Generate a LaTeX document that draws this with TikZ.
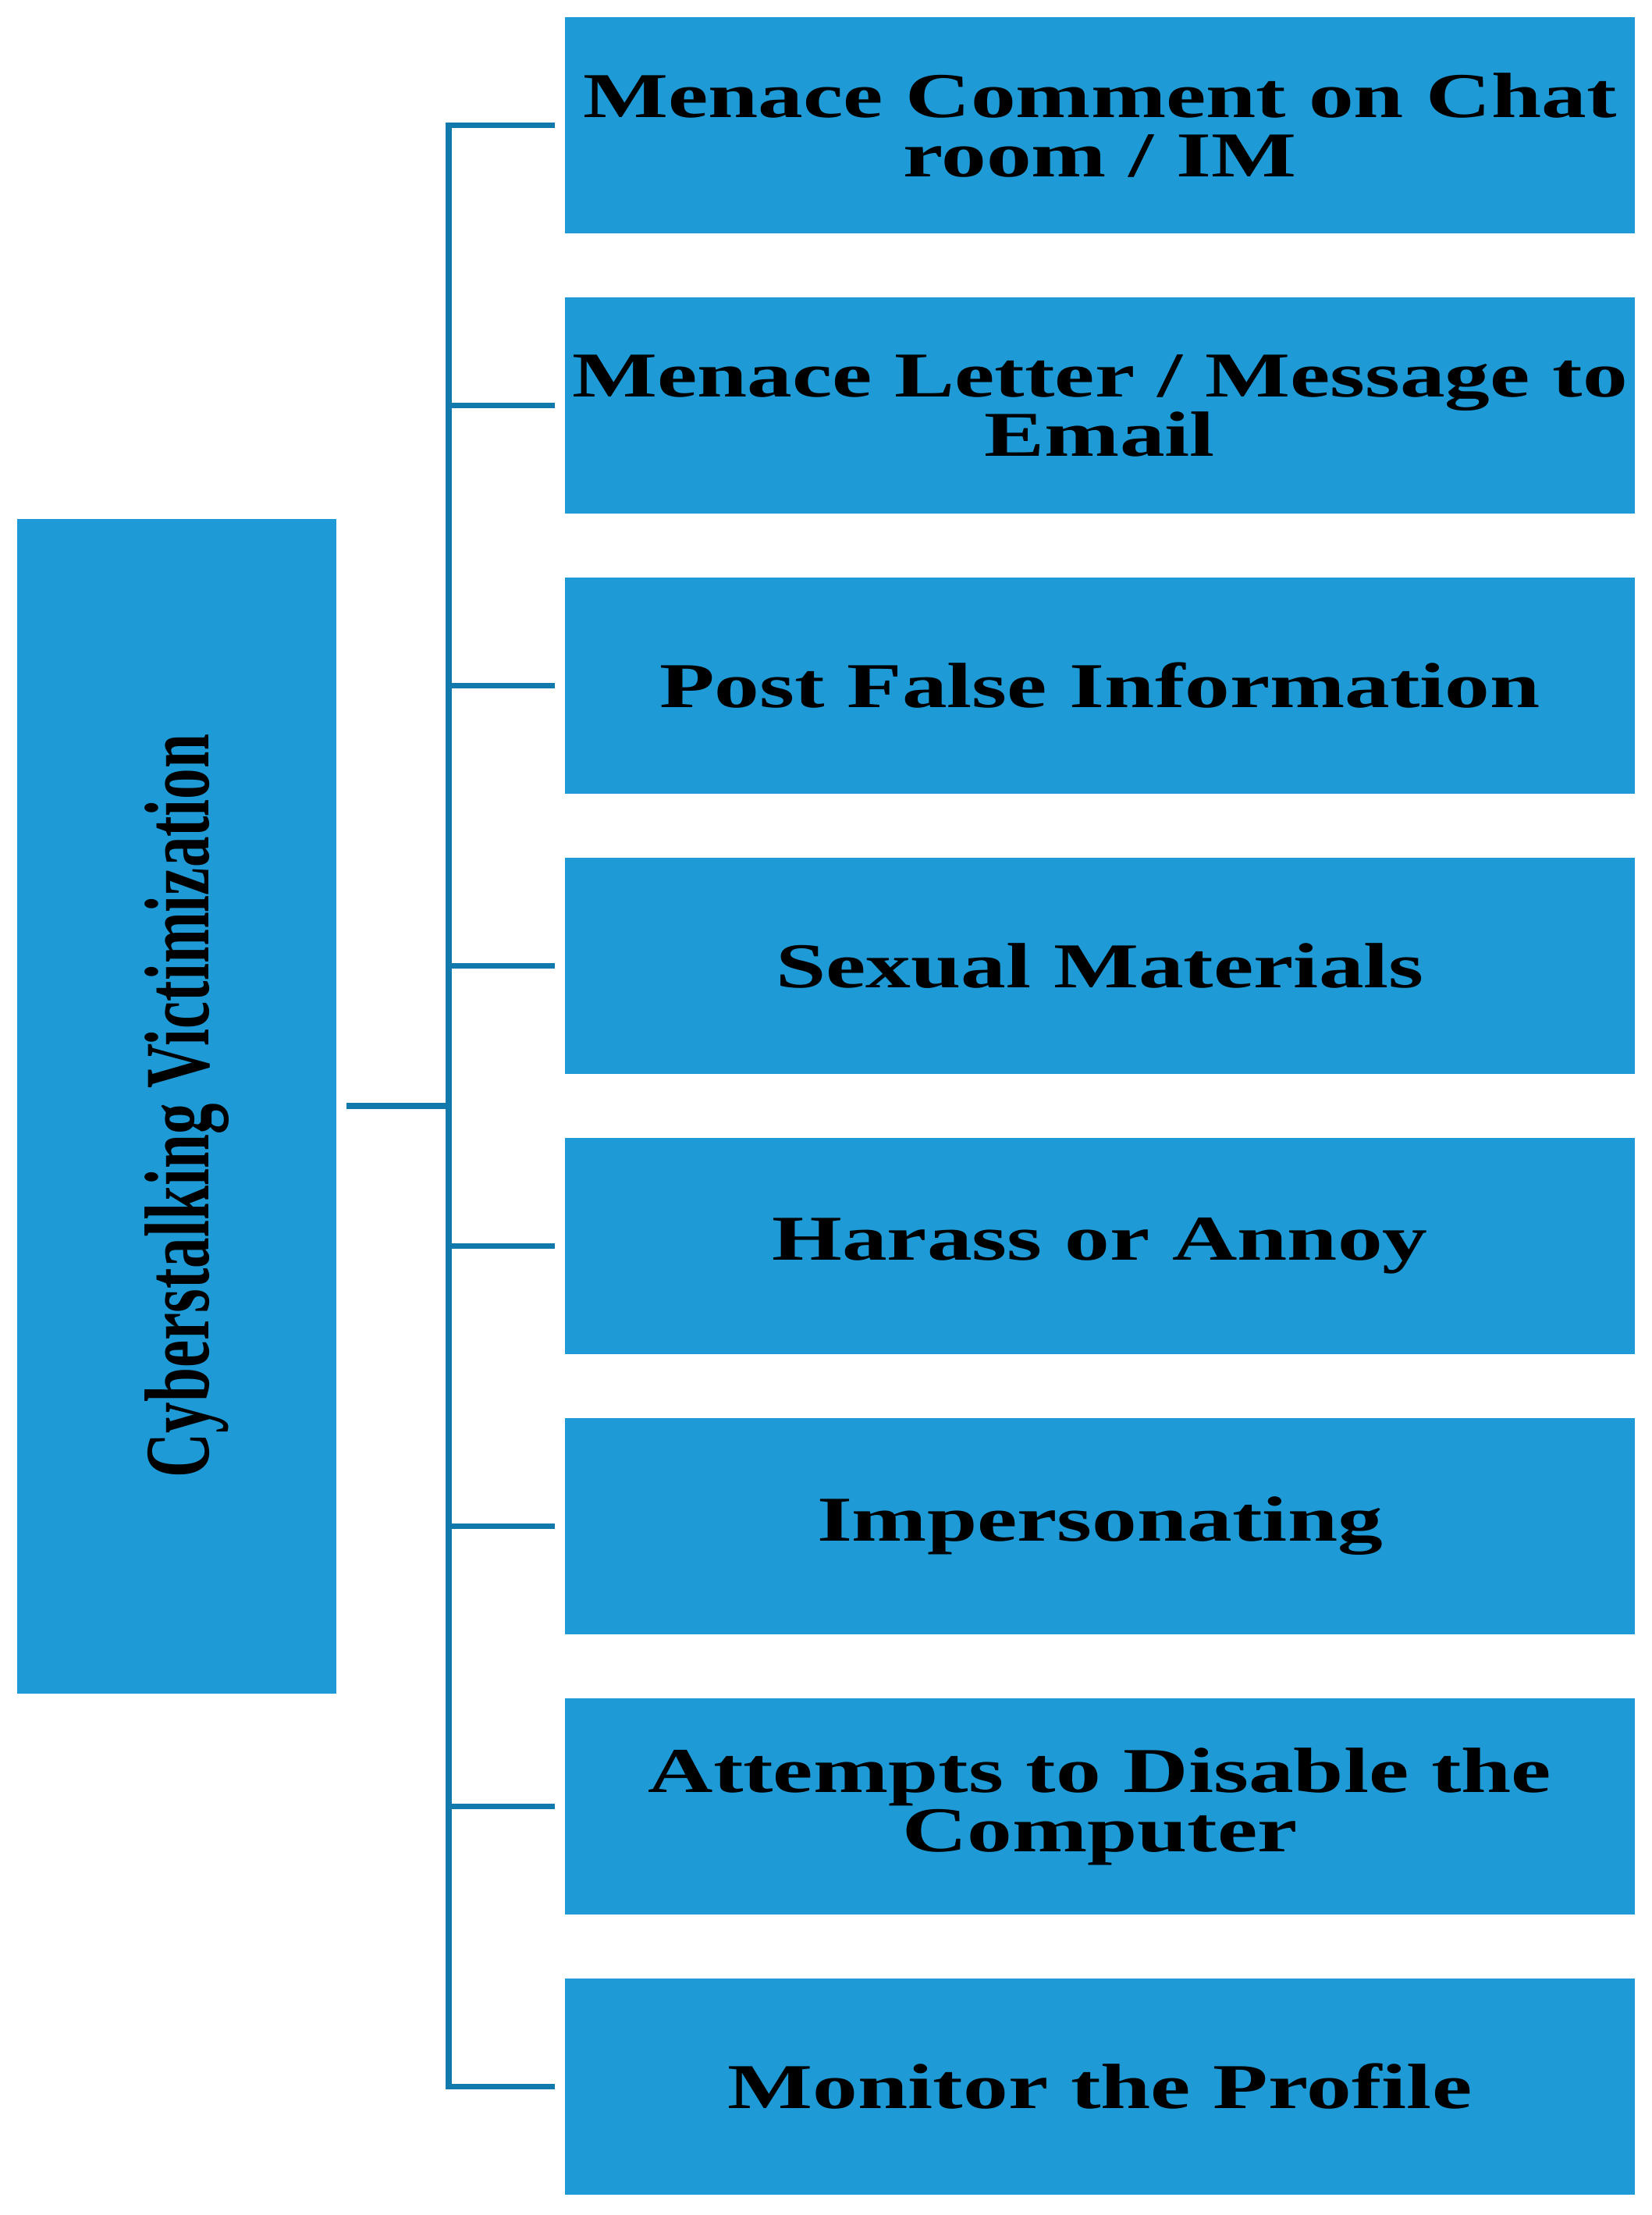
\documentclass[tikz,border=0pt]{standalone}
\usepackage{fontspec}
\setmainfont{Liberation Serif}
\newfontfamily\itemfont[FakeStretch=1.41]{Liberation Serif}
\newfontfamily\rootfont[FakeStretch=0.67]{Liberation Serif}
\definecolor{boxblue}{RGB}{30,155,215}
\definecolor{lineblue}{RGB}{18,121,173}

\begin{document}
\begin{tikzpicture}[
    item/.style={fill=boxblue, minimum width=13.71cm, minimum height=2.77cm,
        inner sep=0pt, outer sep=0.13cm, align=center,
        font=\itemfont\bfseries\fontsize{23.3}{21.6}\selectfont},
    root/.style={fill=boxblue, minimum width=4.09cm, minimum height=15.05cm,
        inner sep=0pt, outer sep=0.13cm,
        font=\rootfont\bfseries\fontsize{33.6}{36}\selectfont},
    link/.style={draw=lineblue, line width=2.1pt}]
    \useasboundingbox (0,0) rectangle (21.17,-28.38);

    % Nodo raiz
    \node[root] (cyber) at (2.265,-14.17) {\hspace*{0.26cm}\rotatebox{90}{Cyberstalking Victimization}};

    % Tipos de victimizacion
    \node[item] (chat)     at (14.095,-1.605)  {Menace Comment on Chat\\room / IM};
    \node[item] (email)    at (14.095,-5.195)  {Menace Letter / Message to\\Email};
    \node[item] (false)    at (14.095,-8.785)  {Post False Information};
    \node[item] (sexual)   at (14.095,-12.375) {Sexual Materials};
    \node[item] (harass)   at (14.095,-15.965) {Harass or Annoy};
    \node[item] (imperson) at (14.095,-19.555) {Impersonating};
    \node[item] (disable)  at (14.095,-23.145) {Attempts to Disable the\\Computer};
    \node[item] (monitor)  at (14.095,-26.735) {Monitor the Profile};

    % Eje vertical del corchete
    \coordinate (spine) at (5.75,-14.17);
    \draw[link, line cap=rect] (chat.west -| spine) -- (monitor.west -| spine);
    \draw[link] (cyber.east) -- (cyber.east -| spine);

    % Ramas hacia cada caja
    \draw[link] (chat.west) -- (chat.west -| spine);
    \draw[link] (email.west) -- (email.west -| spine);
    \draw[link] (false.west) -- (false.west -| spine);
    \draw[link] (sexual.west) -- (sexual.west -| spine);
    \draw[link] (harass.west) -- (harass.west -| spine);
    \draw[link] (imperson.west) -- (imperson.west -| spine);
    \draw[link] (disable.west) -- (disable.west -| spine);
    \draw[link] (monitor.west) -- (monitor.west -| spine);
\end{tikzpicture}
\end{document}
